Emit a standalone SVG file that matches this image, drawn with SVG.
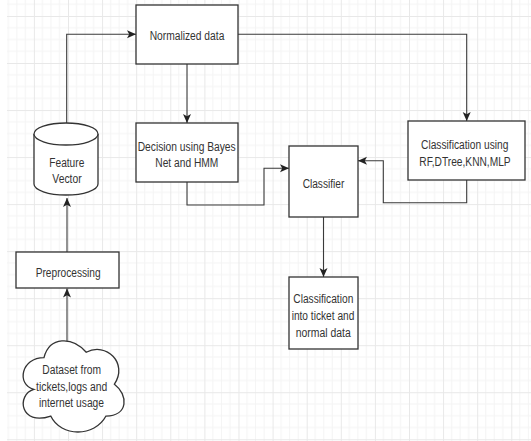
<svg xmlns="http://www.w3.org/2000/svg" width="531" height="441" viewBox="0 0 531 441">
  <style>
    .box { fill: #ffffff; stroke: #333333; stroke-width: 1.3; }
    .conn { fill: none; stroke: #3a3a3a; stroke-width: 1.1; marker-end: url(#arrow); }
    .lbl { font-family: "Liberation Sans", Arial, sans-serif; font-size: 12px; fill: #333333; text-anchor: middle; }
  </style>
  <defs>
    <pattern id="grid" patternUnits="userSpaceOnUse" x="-0.2" y="16" width="34.1" height="47.03">
      <g stroke="#f4f4f4" stroke-width="1">
        <line x1="8.525" y1="0" x2="8.525" y2="47.03"/>
        <line x1="17.05" y1="0" x2="17.05" y2="47.03"/>
        <line x1="25.575" y1="0" x2="25.575" y2="47.03"/>
        <line x1="0" y1="11.76" x2="34.1" y2="11.76"/>
        <line x1="0" y1="23.52" x2="34.1" y2="23.52"/>
        <line x1="0" y1="35.28" x2="34.1" y2="35.28"/>
      </g>
      <g stroke="#e8e8e8" stroke-width="1">
        <line x1="0.5" y1="0" x2="0.5" y2="47.03"/>
        <line x1="0" y1="0.5" x2="34.1" y2="0.5"/>
      </g>
    </pattern>
    <marker id="arrow" markerUnits="userSpaceOnUse" markerWidth="12" markerHeight="12" refX="9" refY="4" orient="auto">
      <path d="M0,0 L9,4 L0,8 L2.2,4 Z" fill="#222222"/>
    </marker>
  </defs>

  <rect x="0" y="0" width="531" height="441" fill="#ffffff"/>
  <rect x="7" y="0" width="524" height="441" fill="url(#grid)"/>

  <g id="connectors">
    <path class="conn" d="M66.7,123 V34.3 H136"/>
    <path class="conn" d="M187,64 V123"/>
    <path class="conn" d="M238,34.3 H466.7 V121"/>
    <path class="conn" d="M187,182 V205 H264 V168.3 H289"/>
    <path class="conn" d="M466.7,180 V202.7 H383.3 V160.7 H358"/>
    <path class="conn" d="M323.5,217 V277"/>
    <path class="conn" d="M67,252 V198"/>
    <path class="conn" d="M67,342 V288.5"/>
  </g>

  <g id="normalized">
    <rect class="box" x="136" y="5" width="102" height="59"/>
    <text class="lbl" x="187" y="39.5" textLength="74.7" lengthAdjust="spacingAndGlyphs">Normalized data</text>
  </g>

  <g id="decision">
    <rect class="box" x="136" y="123" width="102" height="59"/>
    <text class="lbl" x="186.7" y="150.5" textLength="98" lengthAdjust="spacingAndGlyphs">Decision using Bayes</text>
    <text class="lbl" x="186.8" y="167.3" textLength="63" lengthAdjust="spacingAndGlyphs">Net and HMM</text>
  </g>

  <g id="feature-vector">
    <path class="box" d="M34,134 A32,11 0 0 1 98,134 L98,184 A32,11 0 0 1 34,184 Z"/>
    <path class="box" fill="none" d="M34,134 A32,11 0 0 0 98,134"/>
    <text class="lbl" x="66.8" y="166.5" textLength="35" lengthAdjust="spacingAndGlyphs">Feature</text>
    <text class="lbl" x="67" y="183" textLength="29.3" lengthAdjust="spacingAndGlyphs">Vector</text>
  </g>

  <g id="classification-using">
    <rect class="box" x="408" y="121" width="117" height="59"/>
    <text class="lbl" x="464.7" y="149" textLength="87.3" lengthAdjust="spacingAndGlyphs">Classification using</text>
    <text class="lbl" x="465" y="165.5" textLength="91.3" lengthAdjust="spacingAndGlyphs">RF,DTree,KNN,MLP</text>
  </g>

  <g id="classifier">
    <rect class="box" x="289" y="146" width="69" height="71"/>
    <text class="lbl" x="323.5" y="187.5" textLength="41.7" lengthAdjust="spacingAndGlyphs">Classifier</text>
  </g>

  <g id="classification-into">
    <rect class="box" x="289" y="277" width="69" height="72"/>
    <text class="lbl" x="323.3" y="303.3" textLength="60" lengthAdjust="spacingAndGlyphs">Classification</text>
    <text class="lbl" x="323" y="320" textLength="62.7" lengthAdjust="spacingAndGlyphs">into ticket and</text>
    <text class="lbl" x="323.2" y="336.7" textLength="55" lengthAdjust="spacingAndGlyphs">normal data</text>
  </g>

  <g id="preprocessing">
    <rect class="box" x="16" y="252" width="103" height="36"/>
    <text class="lbl" x="68.2" y="276.7" textLength="65" lengthAdjust="spacingAndGlyphs">Preprocessing</text>
  </g>

  <g id="dataset">
    <path class="box" d="M43.98,357.58 C21.44,357.58 15.8,384.15 33.83,389.47 C15.8,394.78 20.31,426.67 50.74,416.04 C60.88,437.3 94.69,437.3 105.96,416.04 C128.5,416.04 128.5,394.78 114.41,384.15 C128.5,362.89 105.96,341.63 86.24,352.26 C72.15,336.32 49.61,336.32 43.98,357.58 Z"/>
    <text class="lbl" x="71.7" y="374.3" textLength="58.7" lengthAdjust="spacingAndGlyphs">Dataset from</text>
    <text class="lbl" x="71.7" y="391" textLength="71.3" lengthAdjust="spacingAndGlyphs">tickets,logs and</text>
    <text class="lbl" x="71.5" y="407.3" textLength="65" lengthAdjust="spacingAndGlyphs">internet usage</text>
  </g>
</svg>
